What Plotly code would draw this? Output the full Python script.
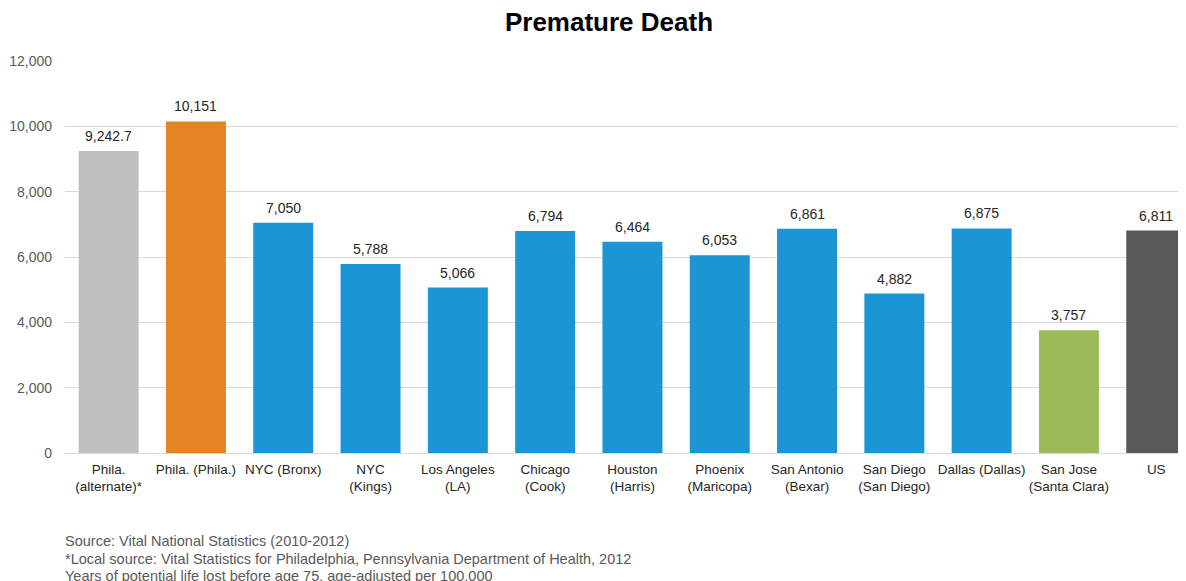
import plotly.graph_objects as go

categories = ["Phila.<br>(alternate)*", "Phila. (Phila.)", "NYC (Bronx)", "NYC<br>(Kings)",
              "Los Angeles<br>(LA)", "Chicago<br>(Cook)", "Houston<br>(Harris)", "Phoenix<br>(Maricopa)",
              "San Antonio<br>(Bexar)", "San Diego<br>(San Diego)", "Dallas (Dallas)",
              "San Jose<br>(Santa Clara)", "US"]
values = [9242.7, 10151, 7050, 5788, 5066, 6794, 6464, 6053, 6861, 4882, 6875, 3757, 6811]
colors = ["#BFBFBF", "#E38425", "#1B95D3", "#1B95D3", "#1B95D3", "#1B95D3", "#1B95D3",
          "#1B95D3", "#1B95D3", "#1B95D3", "#1B95D3", "#9BBB59", "#595959"]
y_ticks = [0, 2000, 4000, 6000, 8000, 10000, 12000]
footnotes = ["Source: Vital National Statistics (2010-2012)",
             "*Local source: Vital Statistics for Philadelphia, Pennsylvania Department of Health, 2012",
             "Years of potential life lost before age 75, age-adjusted per 100,000"]

labels = [f"{v:,}" for v in values]
xs = list(range(len(categories)))

fig = go.Figure(go.Bar(
    x=xs, y=values, marker=dict(color=colors, line=dict(width=0)),
    hoverinfo="skip",
))

for x, v, t in zip(xs, values, labels):
    fig.add_annotation(x=x, y=v, text=t, showarrow=False, yanchor="bottom", yshift=5,
                       font=dict(size=14, color="#262626"))

W, H = 1186, 573
fig.update_layout(
    width=W, height=H,
    margin=dict(l=57, r=0, t=53, b=128),
    paper_bgcolor="white", plot_bgcolor="white",
    bargap=0.313,
    showlegend=False,
    font=dict(family="Liberation Sans", color="#595959", size=13),
    title=dict(text="<b>Premature Death</b>", x=601 / W, xanchor="center", y=1 - 14 / H, yanchor="middle",
               font=dict(size=26, color="#000000", family="Liberation Sans")),
    xaxis=dict(tickmode="array", tickvals=xs, ticktext=categories,
               range=[-0.5, -0.5 + (W - 57) / 87.3], showgrid=False, showline=False, ticks="",
               ticklabelstandoff=6,
               tickfont=dict(size=13.5, color="#262626")),
    yaxis=dict(range=[0, 12000], tickvals=y_ticks, tickformat=",", showgrid=True,
               gridcolor="#D9D9D9", gridwidth=1, zeroline=True, zerolinecolor="#D9D9D9",
               zerolinewidth=1, showline=False, ticks="", ticklabelstandoff=12,
               tickfont=dict(size=14, color="#595959")),
)

foot_x = (55 - 57) / (W - 57)
foot_y = [-0.2245, -0.270, -0.3138]
for t, fy in zip(footnotes, foot_y):
    fig.add_annotation(text=t, xref="paper", yref="paper", x=foot_x, xanchor="left",
                       y=fy, yanchor="middle", showarrow=False,
                       font=dict(size=14.5, color="#595959"))

fig.write_html("out.html")
